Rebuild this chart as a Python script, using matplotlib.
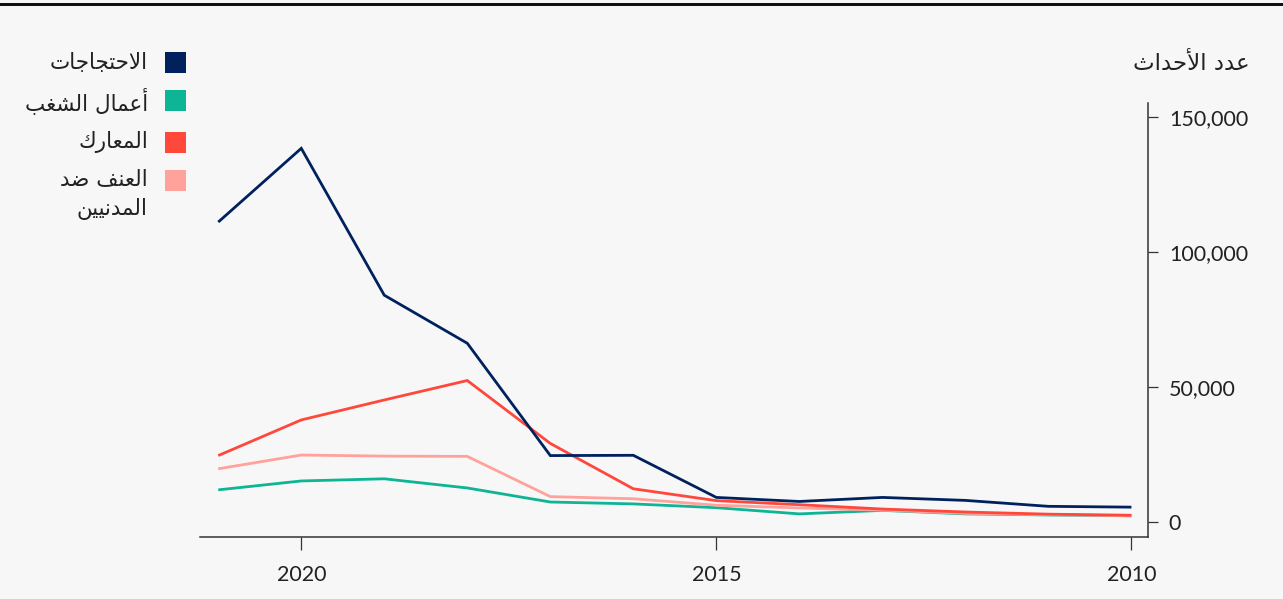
import matplotlib
matplotlib.use("Agg")
import matplotlib.pyplot as plt
from matplotlib.patches import Rectangle
from matplotlib.ticker import FuncFormatter

# ---- data -------------------------------------------------------------
years = [2021, 2020, 2019, 2018, 2017, 2016, 2015, 2014, 2013, 2012, 2011, 2010]
protests = [111100, 138400, 84000, 66200, 24600, 24700, 9100, 7600, 9100, 8000, 5800, 5500]
riots = [11900, 15200, 16000, 12600, 7400, 6700, 5300, 3000, 4300, 3000, 2600, 2300]
battles = [24600, 37800, 45200, 52400, 29100, 12300, 7900, 6400, 4800, 3700, 2900, 2500]
civilians = [19700, 24800, 24400, 24300, 9400, 8600, 6200, 5200, 4400, 3200, 2700, 2300]

series_labels = ["الاحتجاجات", "أعمال الشغب", "المعارك", "العنف ضد\nالمدنيين"]
series_colors = ["#00215e", "#0db594", "#ff473b", "#ffa29b"]
y_title = "عدد الأحداث"
x_ticks = [2020, 2015, 2010]
y_ticks = [0, 50000, 100000, 150000]

# ---- minimal Arabic shaping (contextual forms + visual order) ---------
_FORMS = {
    "ا": ("\uFE8D", "\uFE8E"), "أ": ("\uFE83", "\uFE84"),
    "د": ("\uFEA9", "\uFEAA"), "ر": ("\uFEAD", "\uFEAE"),
    "ب": ("\uFE8F", "\uFE90", "\uFE91", "\uFE92"),
    "ت": ("\uFE95", "\uFE96", "\uFE97", "\uFE98"),
    "ث": ("\uFE99", "\uFE9A", "\uFE9B", "\uFE9C"),
    "ج": ("\uFE9D", "\uFE9E", "\uFE9F", "\uFEA0"),
    "ح": ("\uFEA1", "\uFEA2", "\uFEA3", "\uFEA4"),
    "ش": ("\uFEB5", "\uFEB6", "\uFEB7", "\uFEB8"),
    "ض": ("\uFEBD", "\uFEBE", "\uFEBF", "\uFEC0"),
    "ع": ("\uFEC9", "\uFECA", "\uFECB", "\uFECC"),
    "غ": ("\uFECD", "\uFECE", "\uFECF", "\uFED0"),
    "ف": ("\uFED1", "\uFED2", "\uFED3", "\uFED4"),
    "ك": ("\uFED9", "\uFEDA", "\uFEDB", "\uFEDC"),
    "ل": ("\uFEDD", "\uFEDE", "\uFEDF", "\uFEE0"),
    "م": ("\uFEE1", "\uFEE2", "\uFEE3", "\uFEE4"),
    "ن": ("\uFEE5", "\uFEE6", "\uFEE7", "\uFEE8"),
    "ي": ("\uFEF1", "\uFEF2", "\uFEF3", "\uFEF4"),
    "لا": ("\uFEFB", "\uFEFC"), "لأ": ("\uFEF7", "\uFEF8"),
}


def _shape_line(text):
    tokens = []
    i = 0
    while i < len(text):
        if text[i] == "ل" and i + 1 < len(text) and text[i + 1] in "اأ":
            tokens.append(text[i:i + 2])
            i += 2
        else:
            tokens.append(text[i])
            i += 1
    out = []
    for k, t in enumerate(tokens):
        forms = _FORMS.get(t)
        if forms is None:
            out.append(t)
            continue
        prev = tokens[k - 1] if k > 0 else None
        nxt = tokens[k + 1] if k + 1 < len(tokens) else None
        join_prev = prev in _FORMS and len(_FORMS[prev]) == 4
        join_next = len(forms) == 4 and nxt in _FORMS
        if join_prev and join_next:
            out.append(forms[3])
        elif join_prev:
            out.append(forms[1])
        elif join_next:
            out.append(forms[2])
        else:
            out.append(forms[0])
    return "".join(out)[::-1]


def ar(text):
    return "\n".join(_shape_line(line) for line in text.split("\n"))


# ---- figure -----------------------------------------------------------
W, H = 1283, 599
BG = "#f7f7f7"
NUM_FONT = ["Lato", "DejaVu Sans"]
AR_FONT = ["DejaVu Sans"]
AR_SIZE = 15.5

fig = plt.figure(figsize=(W / 100, H / 100), dpi=100, facecolor=BG)


def fx(x):
    return x / W


def fy(y):
    return 1 - y / H


ax = fig.add_axes([fx(200), fy(537), fx(1148) - fx(200), fy(103) - fy(537)])
ax.set_facecolor(BG)

draw_order = [(riots, series_colors[1]), (civilians, series_colors[3]),
              (battles, series_colors[2]), (protests, series_colors[0])]
for vals, color in draw_order:
    ax.plot(years, vals, color=color, lw=2.0, solid_joinstyle="miter",
            solid_capstyle="butt")

ax.set_xlim(2021.22, 2009.80)
ax.set_ylim(-5560, 155200)

for side in ("top", "left"):
    ax.spines[side].set_visible(False)
for side in ("bottom", "right"):
    ax.spines[side].set_color("#333333")
    ax.spines[side].set_linewidth(1.1)

ax.yaxis.tick_right()
ax.set_yticks(y_ticks)
ax.yaxis.set_major_formatter(FuncFormatter(lambda v, p: f"{int(v):,}"))
ax.set_xticks(x_ticks)
ax.tick_params(axis="y", direction="out", length=7, width=0.9, color="#333333",
               pad=8, labelsize=15.5, labelcolor="#222222")
ax.tick_params(axis="x", direction="out", length=9, width=0.9, color="#333333",
               pad=11, labelsize=15.5, labelcolor="#222222")
for lab in ax.get_xticklabels() + ax.get_yticklabels():
    lab.set_fontfamily(NUM_FONT)

# top rule
fig.add_artist(Rectangle((0, fy(6)), 1, fy(3) - fy(6), transform=fig.transFigure,
                         facecolor="#111111", edgecolor="none"))

# y-axis title
fig.text(fx(1250), fy(63), ar(y_title), ha="right", va="center",
         fontsize=AR_SIZE + 1, family=AR_FONT, color="#222222")

# legend
square_tops = [52, 90, 132, 170]
for label, color, top in zip(series_labels, series_colors, square_tops):
    fig.add_artist(Rectangle((fx(165), fy(top + 21)), fx(21), fy(top) - fy(top + 21),
                             transform=fig.transFigure, facecolor=color,
                             edgecolor="none"))
    if "\n" in label:
        fig.text(fx(148), fy(top - 1), ar(label), ha="right", va="top",
                 multialignment="right", fontsize=AR_SIZE, family=AR_FONT,
                 color="#222222", linespacing=1.5)
    else:
        fig.text(fx(148), fy(top + 10.5), ar(label), ha="right", va="center",
                 fontsize=AR_SIZE, family=AR_FONT, color="#222222")

fig.savefig("out.png", dpi=100, facecolor=BG)
